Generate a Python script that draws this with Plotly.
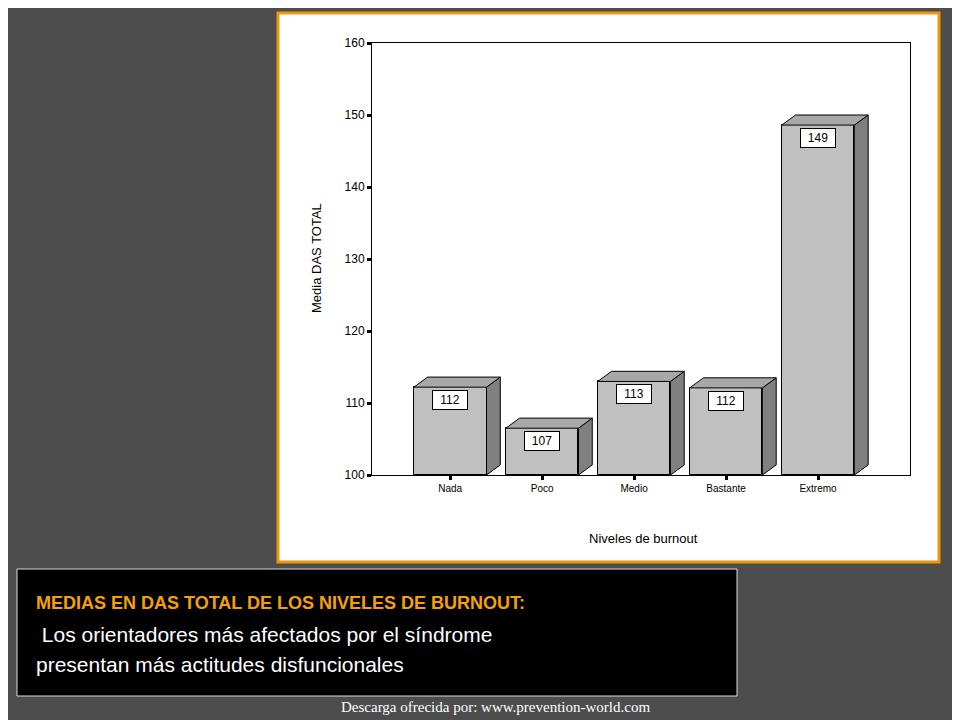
import plotly.graph_objects as go

categories = ["Nada", "Poco", "Medio", "Bastante", "Extremo"]
means = [112.2, 106.5, 113.0, 112.1, 148.6]
labels = ["112", "107", "113", "112", "149"]
y_ticks = [100, 110, 120, 130, 140, 150, 160]

W, H = 960, 720
OFF = 8  # page margin of the browser
L, R, T, B = 372 - OFF, 910 - OFF, 43 - OFF, 475 - OFF  # plot area in canvas pixels


def px(x):
    return (x - OFF - L) / (R - L)


def py(y):
    return (B - (y - OFF)) / (B - T)


xs = list(range(len(categories)))
bw = 0.79
dx, dy = 0.15, 1.4

fig = go.Figure()
fig.add_trace(go.Bar(x=xs, y=[m - 100 for m in means], base=100, width=bw,
                     marker=dict(color="#c0c0c0", line=dict(color="black", width=1)),
                     showlegend=False, hoverinfo="skip"))

shapes = []
# panels behind
shapes.append(dict(type="rect", xref="paper", yref="paper", layer="below",
                   x0=px(278), x1=px(939), y0=py(562), y1=py(13),
                   fillcolor="white", line=dict(color="#f0960a", width=3)))
shapes.append(dict(type="rect", xref="paper", yref="paper",
                   x0=px(17), x1=px(737), y0=py(696), y1=py(569),
                   fillcolor="black", line=dict(color="#dddddd", width=1)))
# 3D side and top of each bar
for x, m in zip(xs, means):
    x0, x1 = x - bw / 2, x + bw / 2
    shapes.append(dict(type="path", xref="x", yref="y",
                       path=f"M {x1},100 L {x1+dx},{100+dy} L {x1+dx},{m+dy} L {x1},{m} Z",
                       fillcolor="#808080", line=dict(color="black", width=1)))
    shapes.append(dict(type="path", xref="x", yref="y",
                       path=f"M {x0},{m} L {x0+dx},{m+dy} L {x1+dx},{m+dy} L {x1},{m} Z",
                       fillcolor="#a8a8a8", line=dict(color="black", width=1)))


def note(x, y, text, size, color, family="Arial", xanchor="center", **kw):
    return dict(xref="paper", yref="paper", x=px(x), y=py(y), text=text,
                xanchor=xanchor, yanchor="middle", showarrow=False,
                font=dict(family=family, size=size, color=color), **kw)


annotations = []
for x, m, t in zip(xs, means, labels):
    annotations.append(dict(x=x, y=m - 1.8, text=t, showarrow=False,
                            xanchor="center", yanchor="middle",
                            bgcolor="white", bordercolor="black", borderwidth=1,
                            borderpad=2, font=dict(family="Arial", size=12, color="black"),
                            width=30))
annotations += [
    note(643, 538, "Niveles de burnout", 13, "black"),
    note(316, 258, "Media DAS TOTAL", 13, "black", textangle=-90),
    note(34, 603, "<b>MEDIAS EN DAS TOTAL DE LOS NIVELES DE BURNOUT:</b>", 18, "#f5a00a",
         xanchor="left"),
    note(34, 634, "&nbsp;Los orientadores más afectados por el síndrome", 21, "white",
         xanchor="left"),
    note(34, 664, "presentan más actitudes disfuncionales", 21, "white", xanchor="left"),
    note(495, 707, "Descarga ofrecida por: www.prevention-world.com", 15, "white",
         family="Liberation Serif"),
]

fig.update_layout(
    width=W, height=H, margin=dict(l=L, r=W - R, t=T, b=H - B),
    paper_bgcolor="#4d4d4d", plot_bgcolor="white",
    shapes=shapes, annotations=annotations, bargap=0,
    xaxis=dict(range=[-0.85, 5.0], tickvals=xs, ticktext=categories,
               ticks="outside", ticklen=4, tickwidth=3, tickcolor="black",
               showline=True, linecolor="black", mirror=True, showgrid=False,
               zeroline=False, tickfont=dict(family="Liberation Sans", size=10, color="black")),
    yaxis=dict(range=[100, 160], tickvals=y_ticks, ticks="outside", ticklen=4,
               tickwidth=3, tickcolor="black", showline=True, linecolor="black",
               mirror=True, showgrid=False, zeroline=False,
               tickfont=dict(family="Arial", size=12, color="black")),
)

fig.write_html("out.html")
